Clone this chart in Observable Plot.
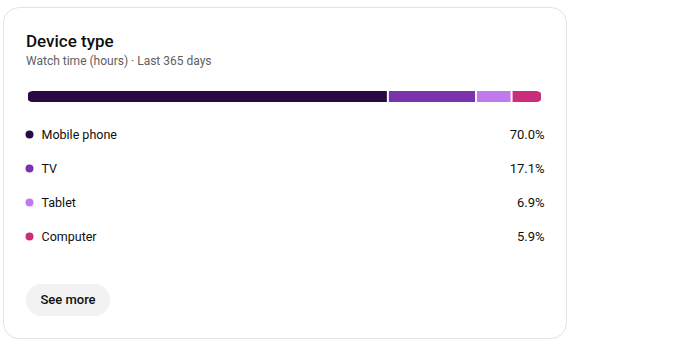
<!DOCTYPE html>
<html>
<head>
<meta charset="utf-8">
<script src="https://cdn.jsdelivr.net/npm/d3@7"></script>
<script src="https://cdn.jsdelivr.net/npm/@observablehq/plot@0.6"></script>
<style>
  html, body { margin: 0; padding: 0; background: #fff; width: 690px; height: 354px; overflow: hidden; font-family: Roboto, "Noto Sans", sans-serif; }
  #card { position: absolute; left: 3px; top: 7px; width: 562px; height: 330px; border: 1px solid #e3e3e3; border-radius: 16px; background: #fff; }
  #title { position: absolute; left: 26px; top: 31px; font-size: 17px; line-height: 20px; font-weight: 500; color: #0f0f0f; }
  #subtitle { position: absolute; left: 26px; top: 53px; font-size: 12px; line-height: 16px; color: #606060; }
  #bar { position: absolute; left: 27px; top: 91px; width: 515px; height: 11px; clip-path: inset(0 round 6px); }
  #legend { position: absolute; left: 0; top: 117px; }
  #more { position: absolute; left: 26px; top: 284px; width: 84px; height: 32px; border-radius: 16px; background: #f2f2f2; font-size: 13px; font-weight: 500; line-height: 32px; text-align: center; color: #0f0f0f; }
</style>
</head>
<body>
<div id="card"></div>
<div id="title">Device type</div>
<div id="subtitle">Watch time (hours) · Last 365 days</div>
<div id="bar"></div>
<div id="legend"></div>
<div id="more">See more</div>
<script>
const devices = ["Mobile phone", "TV", "Tablet", "Computer"];
const shares = [70.0, 17.1, 6.9, 5.9];
const colors = ["#2b0a42", "#7b32ad", "#c17aee", "#c92d7c"];

const data = devices.map((d, i) => ({device: d, share: shares[i]}));
const color = {domain: devices, range: colors};

const bar = Plot.plot({
  width: 515, height: 11,
  margin: 0,
  x: {domain: [0, d3.sum(shares)], axis: null},
  y: {axis: null},
  color,
  marks: [
    Plot.barX(data, Plot.stackX({x: "share", fill: "device", order: devices, insetLeft: 1, insetRight: 1}))
  ]
});
document.getElementById("bar").appendChild(bar);

const legend = Plot.plot({
  width: 570, height: 136,
  marginLeft: 29, marginRight: 26, marginTop: 17, marginBottom: 17,
  style: {fontFamily: "Roboto, sans-serif", fontSize: "13px", color: "#0f0f0f"},
  y: {type: "point", domain: devices, padding: 0, axis: null},
  x: {axis: null},
  color,
  marks: [
    Plot.dot(data, {y: "device", fill: "device", r: 4, frameAnchor: "left"}),
    Plot.text(data, {y: "device", text: "device", frameAnchor: "left", dx: 12, textAnchor: "start", fill: "#0f0f0f", fontSize: 12.5}),
    Plot.text(data, {y: "device", text: d => d.share.toFixed(1) + "%", frameAnchor: "right", textAnchor: "end", fill: "#0f0f0f", fontSize: 13})
  ]
});
document.getElementById("legend").appendChild(legend);
</script>
</body>
</html>
